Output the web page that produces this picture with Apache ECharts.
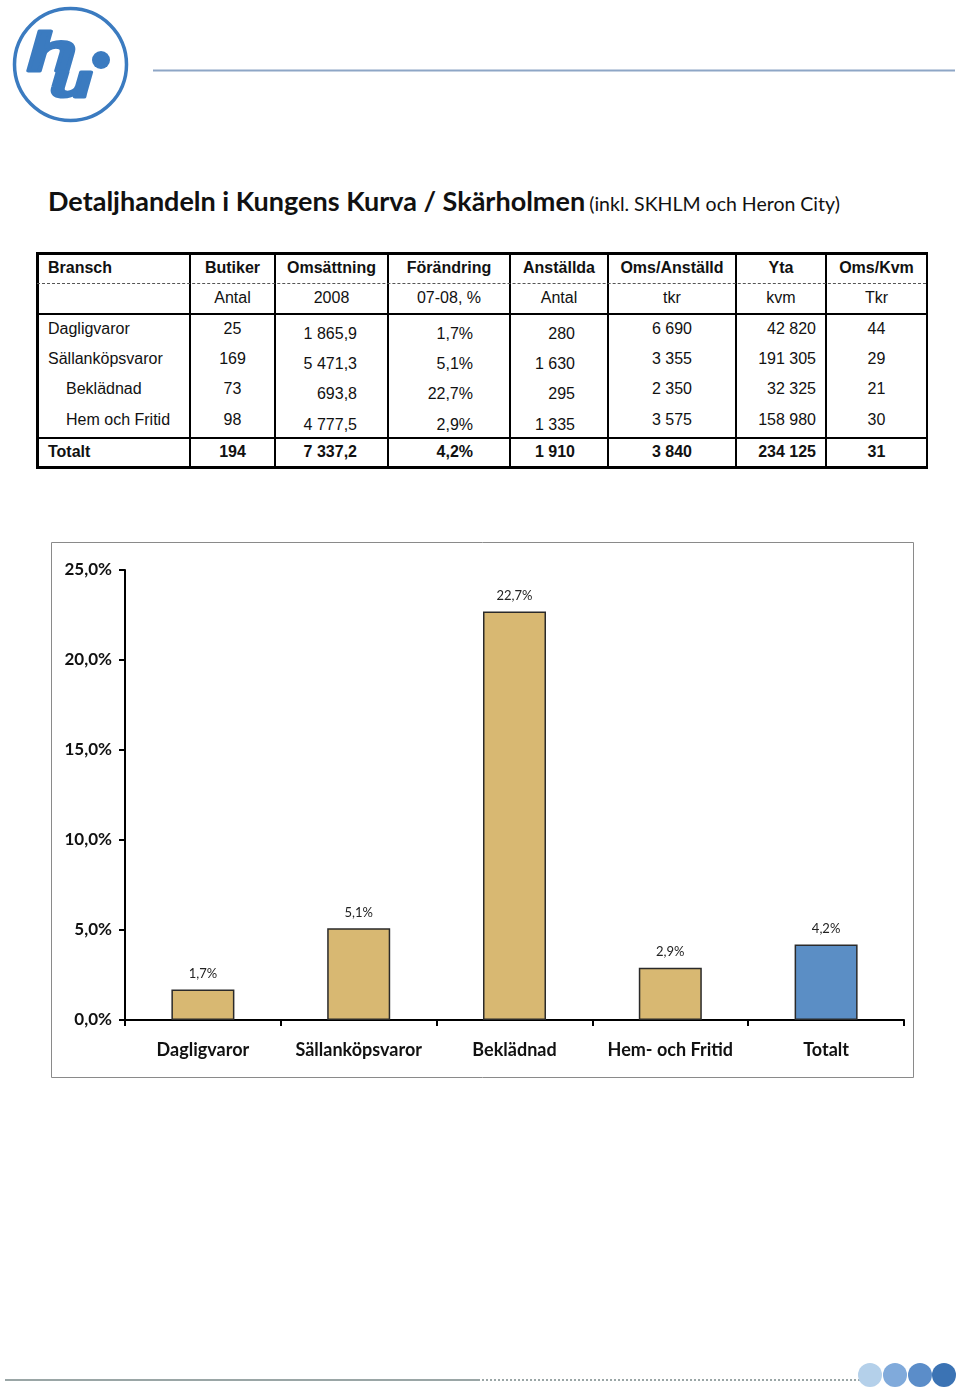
<!DOCTYPE html>
<html>
<head>
<meta charset="utf-8">
<script src="https://cdn.jsdelivr.net/npm/echarts@6/dist/echarts.min.js"></script>
<style>
  html, body { margin: 0; padding: 0; background: #fff; }
  body { width: 960px; height: 1391px; position: relative; overflow: hidden; font-family: "Liberation Sans", Arial, sans-serif; }
  .abs { position: absolute; }
  .title { left: 48px; top: 184px; font-family: Lato, "Open Sans", sans-serif; white-space: nowrap; color: #111; }
  .title b { font-size: 27px; font-weight: 700; }
  .title span { font-size: 19.5px; }
  .cell { position: absolute; font-size: 16px; color: #111; white-space: nowrap; line-height: 18px; }
  .hline { position: absolute; background: #000; }
  #chart { position: absolute; left: 51px; top: 542px; width: 863px; height: 536px; }
</style>
</head>
<body>
<svg class="abs" style="left:0;top:0" width="960" height="140">
  <circle cx="70.5" cy="64.5" r="56" fill="none" stroke="#3b7bc0" stroke-width="3.5"/>
  <text transform="translate(27,71) scale(1.45,1)" font-family="Liberation Sans" font-weight="bold" font-style="italic" font-size="56" fill="#3b7bc0" stroke="#3b7bc0" stroke-width="3" stroke-linejoin="round">h</text>
  <text transform="translate(50,97) scale(1.5,1)" font-family="Liberation Sans" font-weight="bold" font-style="italic" font-size="46" fill="#3b7bc0" stroke="#3b7bc0" stroke-width="3" stroke-linejoin="round">u</text>
  <circle cx="101" cy="60" r="9" fill="#3b7bc0"/>
  <line x1="153" y1="70.5" x2="955" y2="70.5" stroke="#8ea6c6" stroke-width="2"/>
</svg>
<div class="abs title"><b>Detaljhandeln i Kungens Kurva / Skärholmen</b> <span>(inkl. SKHLM och Heron City)</span></div>
<div id="table"></div>
<div id="chart"></div>
<svg class="abs" style="left:0;top:1355px" width="960" height="36">
  <line x1="5" y1="25" x2="478" y2="25" stroke="#9aa6a6" stroke-width="2"/>
  <line x1="478" y1="25" x2="862" y2="25" stroke="#9aa6a6" stroke-width="2" stroke-dasharray="2,2"/>
  <circle cx="870" cy="20" r="12" fill="#b4d0ea"/>
  <circle cx="895" cy="20" r="12" fill="#80aadb"/>
  <circle cx="920" cy="20" r="12" fill="#5b8dc9"/>
  <circle cx="944" cy="20" r="12" fill="#3b73b4"/>
</svg>
<script>
// ---- Table data ----
const tableHeaders = ['Bransch', 'Butiker', 'Omsättning', 'Förändring', 'Anställda', 'Oms/Anställd', 'Yta', 'Oms/Kvm'];
const tableSubHeaders = ['', 'Antal', '2008', '07-08, %', 'Antal', 'tkr', 'kvm', 'Tkr'];
const rowNames = ['Dagligvaror', 'Sällanköpsvaror', 'Beklädnad', 'Hem och Fritid'];
const rowIndent = [0, 0, 1, 1];
const butiker = ['25', '169', '73', '98'];
const omsattning = ['1 865,9', '5 471,3', '693,8', '4 777,5'];
const forandring = ['1,7%', '5,1%', '22,7%', '2,9%'];
const anstallda = ['280', '1 630', '295', '1 335'];
const omsAnstalld = ['6 690', '3 355', '2 350', '3 575'];
const yta = ['42 820', '191 305', '32 325', '158 980'];
const omsKvm = ['44', '29', '21', '30'];
const totalRow = ['Totalt', '194', '7 337,2', '4,2%', '1 910', '3 840', '234 125', '31'];

// ---- Chart data ----
const categories = ['Dagligvaror', 'Sällanköpsvaror', 'Beklädnad', 'Hem- och Fritid', 'Totalt'];
const changeValues = [1.7, 5.1, 22.7, 2.9, 4.2];
const yTicks = [0, 5, 10, 15, 20, 25];

// ---- Build table (layout) ----
(function () {
  const t = document.getElementById('table');
  const colX = [37, 190, 275, 388, 510, 608, 736, 826, 927];
  function line(x, y, w, h, style) {
    const d = document.createElement('div');
    d.className = 'hline';
    d.style.left = x + 'px'; d.style.top = y + 'px'; d.style.width = w + 'px'; d.style.height = h + 'px';
    if (style) Object.assign(d.style, style);
    t.appendChild(d);
  }
  line(36, 252, 892, 2.5); line(36, 466, 892, 2.5);
  line(36, 252, 2.5, 216.5); line(925.5, 252, 2.5, 216.5);
  for (let i = 1; i < colX.length - 1; i++) line(colX[i] - 1, 252, 2, 216);
  line(37, 282.5, 889, 0, { background: 'none', borderTop: '1px dashed #555' });
  line(37, 312.5, 889, 2);
  line(37, 436.5, 889, 2);
  function cell(text, col, cy, align, bold, pad) {
    const d = document.createElement('div');
    d.className = 'cell';
    d.textContent = text;
    if (bold) d.style.fontWeight = 'bold';
    d.style.top = (cy - 9) + 'px';
    const x0 = colX[col], x1 = colX[col + 1];
    if (align === 'left') { d.style.left = (x0 + 11 + (pad || 0)) + 'px'; }
    else if (align === 'center') { d.style.left = x0 + 'px'; d.style.width = (x1 - x0) + 'px'; d.style.textAlign = 'center'; }
    else { d.style.right = (960 - pad) + 'px'; d.style.textAlign = 'right'; }
    t.appendChild(d);
  }
  tableHeaders.forEach((h, i) => cell(h, i, 268, i === 0 ? 'left' : 'center', true));
  tableSubHeaders.forEach((h, i) => { if (h) cell(h, i, 298, 'center', false); });
  const rowY = [329, 359, 389, 420];
  rowNames.forEach((n, r) => {
    const y = rowY[r];
    cell(n, 0, y, 'left', false, rowIndent[r] ? 18 : 0);
    cell(butiker[r], 1, y, 'center', false);
    cell(omsattning[r], 2, y + 5, 'right', false, 357);
    cell(forandring[r], 3, y + 5, 'right', false, 473);
    cell(anstallda[r], 4, y + 5, 'right', false, 575);
    cell(omsAnstalld[r], 5, y, 'right', false, 692);
    cell(yta[r], 6, y, 'right', false, 816);
    cell(omsKvm[r], 7, y, 'center', false);
  });
  const ty = 452;
  cell(totalRow[0], 0, ty, 'left', true);
  cell(totalRow[1], 1, ty, 'center', true);
  cell(totalRow[2], 2, ty, 'right', true, 357);
  cell(totalRow[3], 3, ty, 'right', true, 473);
  cell(totalRow[4], 4, ty, 'right', true, 575);
  cell(totalRow[5], 5, ty, 'right', true, 692);
  cell(totalRow[6], 6, ty, 'right', true, 816);
  cell(totalRow[7], 7, ty, 'center', true);
})();

// ---- Chart ----
const chart = echarts.init(document.getElementById('chart'), null, { renderer: 'canvas' });
const fmt = v => v.toFixed(1).replace('.', ',') + '%';
const barColors = ['#d8b872', '#d8b872', '#d8b872', '#d8b872', '#5b8ec5'];
chart.setOption({
  animation: false,
  graphic: [{
    type: 'rect', shape: { x: 0.5, y: 0.5, width: 862, height: 535 },
    style: { fill: 'none', stroke: '#8a8a8a', lineWidth: 1 }, silent: true
  }],
  grid: { left: 74, right: 10, top: 28, bottom: 58, containLabel: false },
  xAxis: {
    type: 'category',
    data: categories,
    boundaryGap: true,
    axisLine: { lineStyle: { color: '#000', width: 2 } },
    axisTick: { show: true, alignWithLabel: false, length: 6, lineStyle: { color: '#000', width: 2 } },
    axisLabel: { margin: 21, fontFamily: 'Lato', fontWeight: 'bold', fontSize: 18, color: '#111', interval: 0 }
  },
  yAxis: {
    type: 'value',
    min: yTicks[0], max: yTicks[yTicks.length - 1], interval: 5,
    axisLine: { show: true, lineStyle: { color: '#000', width: 2 } },
    axisTick: { show: true, length: 6, lineStyle: { color: '#000', width: 2 } },
    splitLine: { show: false },
    axisLabel: { margin: 13, formatter: fmt, fontFamily: 'Lato', fontWeight: 'bold', fontSize: 17, color: '#111' }
  },
  series: [{
    type: 'bar',
    barWidth: 63,
    data: changeValues.map((v, i) => ({ value: v, itemStyle: { color: barColors[i] } })),
    itemStyle: { borderColor: '#2a2a2a', borderWidth: 1.5 },
    label: {
      show: true, position: 'top', distance: 9,
      formatter: p => fmt(p.value),
      fontFamily: 'Lato', fontSize: 13, color: '#222'
    }
  }]
});
</script>
</body>
</html>
